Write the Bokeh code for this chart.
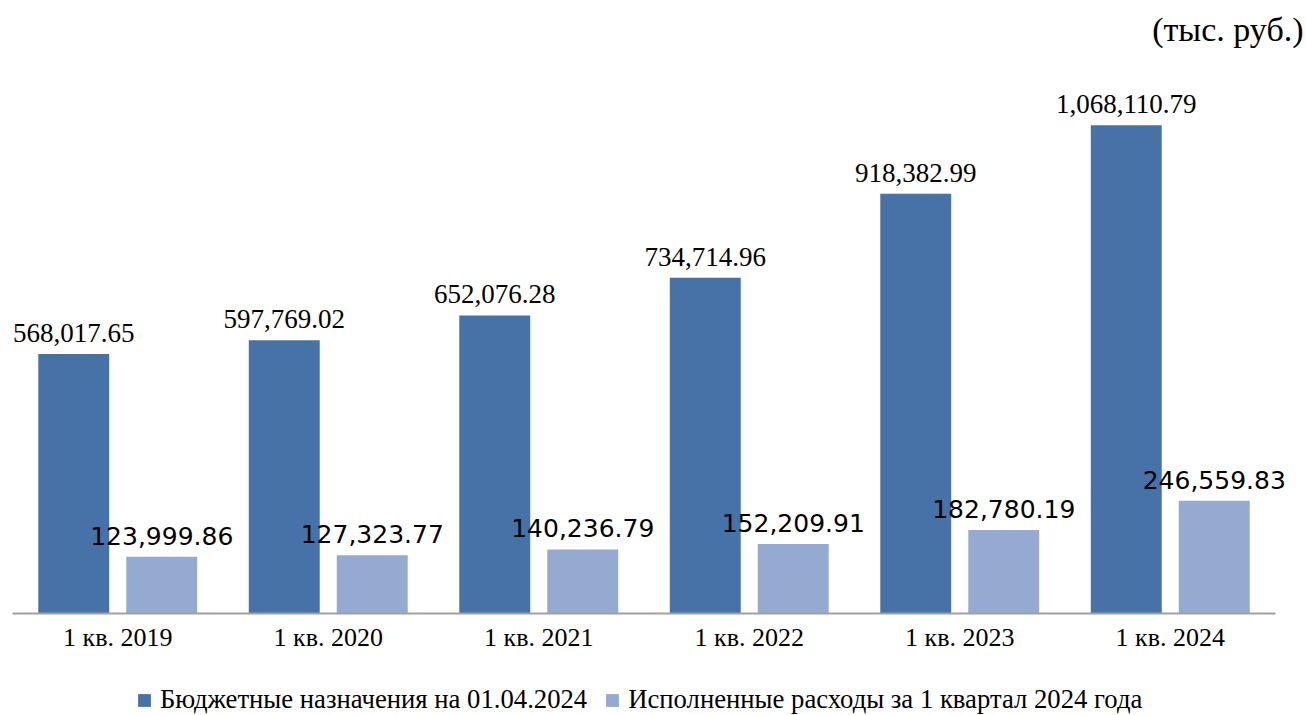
from bokeh.plotting import figure
from bokeh.models import (ColumnDataSource, LabelSet, Legend, LegendItem,
                          Range1d, FixedTicker)
from bokeh.core.properties import value
from bokeh.layouts import column
from bokeh.transform import dodge
from bokeh.embed import file_html
from bokeh.resources import INLINE

# ---- data ----
categories = ["1 кв. 2019", "1 кв. 2020", "1 кв. 2021", "1 кв. 2022", "1 кв. 2023", "1 кв. 2024"]
budget = [568017.65, 597769.02, 652076.28, 734714.96, 918382.99, 1068110.79]
spent = [123999.86, 127323.77, 140236.79, 152209.91, 182780.19, 246559.83]
series_names = ["Бюджетные назначения на 01.04.2024",
                "Исполненные расходы за 1 квартал 2024 года"]
unit_label = "(тыс. руб.)"

# ---- style ----
DARK = "#4672A7"
LIGHT = "#95AAD0"
SERIF = "Liberation Serif"
SANS = "DejaVu Sans"
OFF = 0.209
BAR_W = 0.337
W = 1306
CAT_PX = 210.5          # pixel width of one category slot
LEFT_PAD = 12 / CAT_PX  # blank space left of first slot (in slot units)
RIGHT_PAD = 31 / CAT_PX

pos = list(range(1, len(categories) + 1))

source = ColumnDataSource(dict(
    x=pos,
    budget=budget,
    spent=spent,
    budget_lbl=[f"{v:,.2f}" for v in budget],
    spent_lbl=[f"{v:,.2f}" for v in spent],
))

p = figure(width=W, height=682,
           x_range=Range1d(0.5 - LEFT_PAD, len(categories) + 0.5 + RIGHT_PAD),
           y_range=Range1d(0, 1221000),
           output_backend="svg", toolbar_location=None,
           y_axis_location=None,
           min_border_left=0, min_border_right=0,
           min_border_top=55, min_border_bottom=69)

p.outline_line_color = None
p.xgrid.grid_line_color = None
p.ygrid.grid_line_color = None
p.background_fill_color = "white"
p.border_fill_color = "white"

r1 = p.vbar(x=dodge("x", -OFF), top="budget", width=BAR_W,
            source=source, fill_color=DARK, line_color=None)
r2 = p.vbar(x=dodge("x", OFF), top="spent", width=BAR_W,
            source=source, fill_color=LIGHT, line_color=None)

p.add_layout(LabelSet(x=dodge("x", -OFF), y="budget", text="budget_lbl",
                      source=source, text_align="center", text_baseline="alphabetic",
                      y_offset=12, text_font=value(SERIF), text_font_size=value("27px"),
                      text_color="black"))
p.add_layout(LabelSet(x=dodge("x", OFF), y="spent", text="spent_lbl",
                      source=source, text_align="center", text_baseline="alphabetic",
                      y_offset=12, text_font=value(SANS), text_font_size=value("25px"),
                      text_color="black"))

ax = p.xaxis[0]
ax.ticker = FixedTicker(ticks=pos)
ax.major_label_overrides = {x: c for x, c in zip(pos, categories)}
ax.bounds = (0.5, len(categories) + 0.5)
ax.axis_line_color = "#A0A0A0"
ax.axis_line_width = 2
ax.major_tick_line_color = None
ax.minor_tick_line_color = None
ax.major_label_text_font = SERIF
ax.major_label_text_font_size = "26px"
ax.major_label_text_color = "black"
ax.major_label_standoff = 3

p.title.text = unit_label
p.title.align = "right"
p.title.offset = 3
p.title.standoff = 15
p.title.text_font = SERIF
p.title.text_font_size = "34px"
p.title.text_font_style = "normal"
p.title.text_color = "black"

# ---- legend strip (separate figure below the chart) ----
lg = figure(width=W, height=33, output_backend="svg", toolbar_location=None,
            x_range=Range1d(0, 1), y_range=Range1d(0, 1),
            x_axis_location=None, y_axis_location=None,
            min_border_left=0, min_border_right=0, min_border_top=0, min_border_bottom=0)
lg.outline_line_color = None
lg.xgrid.grid_line_color = None
lg.ygrid.grid_line_color = None
d1 = lg.vbar(x=[-5], top=[-5], width=0.5, fill_color=DARK, line_color=None)
d2 = lg.vbar(x=[-5], top=[-5], width=0.5, fill_color=LIGHT, line_color=None)

legend = Legend(items=[LegendItem(label=series_names[0], renderers=[d1]),
                       LegendItem(label=series_names[1], renderers=[d2])],
                orientation="horizontal", location=(136, 0),
                glyph_width=16, glyph_height=16, label_standoff=8, spacing=17,
                padding=0, margin=0, border_line_color=None,
                background_fill_alpha=0,
                label_text_font=SERIF, label_text_font_size="26.7px",
                label_text_color="black")
lg.add_layout(legend, "center")

open("out.html", "w").write(file_html(column(p, lg), INLINE))
